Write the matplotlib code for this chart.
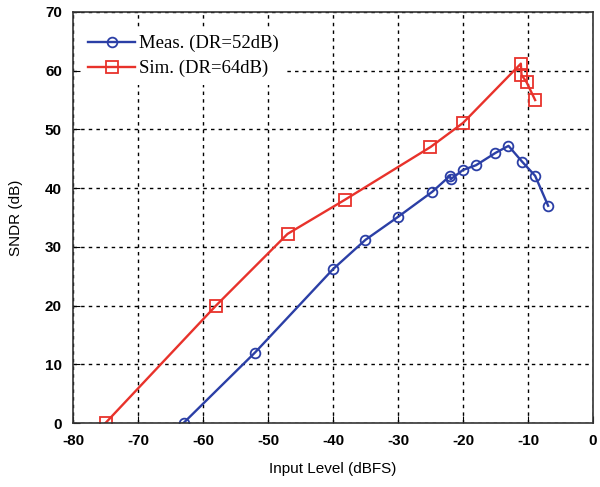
import matplotlib
matplotlib.use('Agg')
import matplotlib.pyplot as plt

# measured SNDR curve
meas_x = [-63, -52, -40, -35, -30, -24.7, -22, -21.9, -20, -18, -15, -13, -10.9, -8.9, -6.9]
meas_y = [0, 12, 26.2, 31.2, 35.1, 39.4, 42.1, 41.5, 43.1, 43.9, 46.0, 47.2, 44.5, 42.1, 37.0]

# simulated SNDR curve
sim_x = [-75, -58, -47, -38.2, -25, -20, -11.1, -11, -10.2, -8.9]
sim_y = [0, 20, 32.2, 38, 47, 51.1, 61.2, 59.3, 58, 55]

x_ticks = [-80, -70, -60, -50, -40, -30, -20, -10, 0]
y_ticks = [0, 10, 20, 30, 40, 50, 60, 70]

def main():
    plt.rcParams['axes.unicode_minus'] = False
    fig = plt.figure(figsize=(6, 4.87), dpi=100)
    ax = fig.add_axes([0.1217, 0.1314, 0.8666, 0.844])

    ax.plot(meas_x, meas_y, '-o', color='#2b3fa6', lw=1.7, ms=7,
            mfc='none', mew=1.3, label='Meas. (DR=52dB)')
    ax.plot(sim_x, sim_y, '-s', color='#e8322b', lw=1.7, ms=8,
            mfc='none', mew=1.3, label='Sim. (DR=64dB)')

    ax.set_xlim(-80, 0)
    ax.set_ylim(0, 70)
    ax.set_xticks(x_ticks)
    ax.set_yticks(y_ticks)
    ax.grid(True, color='black', linestyle=(0, (2.5, 3)), lw=1.0)
    ax.tick_params(direction='in', length=5, labelsize=11, pad=8)
    for lab in ax.get_xticklabels() + ax.get_yticklabels():
        lab.set_fontweight('bold')
        lab.set_family('Liberation Sans')
    for s in ax.spines.values():
        s.set_linewidth(1.2)
        s.set_color('#333333')

    ax.set_xlabel('Input Level (dBFS)', fontsize=11, family='Liberation Sans', labelpad=10)
    ax.set_ylabel('SNDR (dB)', fontsize=11, family='Liberation Sans', labelpad=16)

    leg = ax.legend(loc='upper left', frameon=True, fancybox=False,
                    prop={'family': 'Liberation Serif', 'size': 13.5},
                    handlelength=2.5, handletextpad=0.2, labelspacing=0.4,
                    borderpad=0.4, borderaxespad=0, bbox_to_anchor=(0.015, 0.962))
    leg.get_frame().set_facecolor('white')
    leg.get_frame().set_edgecolor('none')
    leg.get_frame().set_alpha(1.0)

    fig.savefig('out.png', dpi=100)

if __name__ == '__main__':
    main()
